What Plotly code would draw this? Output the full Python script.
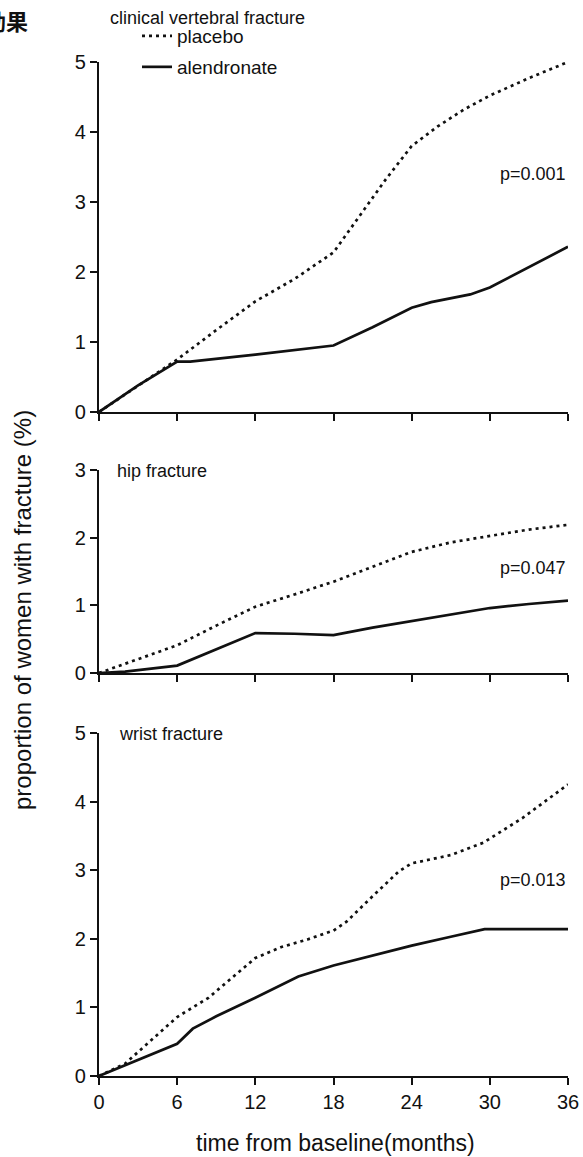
import plotly.graph_objects as go

# ---------------- data ----------------
months_ticks = [0, 6, 12, 18, 24, 30, 36]

clin_placebo_x = [0, 6, 9, 12, 15, 18, 20, 22, 24, 26, 28, 30, 33, 36]
clin_placebo_y = [0, 0.75, 1.17, 1.58, 1.9, 2.28, 2.8, 3.32, 3.8, 4.08, 4.32, 4.52, 4.77, 5.0]
clin_alend_x = [0, 3, 6, 7, 12, 18, 21, 24, 25.5, 28.5, 30, 33, 36]
clin_alend_y = [0, 0.38, 0.72, 0.72, 0.82, 0.95, 1.21, 1.49, 1.57, 1.68, 1.78, 2.07, 2.36]

hip_placebo_x = [0, 3, 6, 9, 12, 15, 18, 21, 24, 27, 30, 33, 36]
hip_placebo_y = [0, 0.2, 0.41, 0.7, 0.98, 1.16, 1.35, 1.57, 1.79, 1.93, 2.03, 2.12, 2.19]
hip_alend_x = [0, 2, 6, 9, 12, 15, 18, 21, 24, 27, 30, 33, 36]
hip_alend_y = [0, 0.02, 0.11, 0.35, 0.59, 0.58, 0.56, 0.67, 0.77, 0.87, 0.96, 1.02, 1.07]

wrist_placebo_x = [0, 2, 4, 6, 8.4, 12, 14, 16, 18, 19, 21, 23, 24, 27, 29.5, 30.5, 32.5, 36]
wrist_placebo_y = [0, 0.18, 0.52, 0.86, 1.14, 1.72, 1.88, 1.99, 2.12, 2.25, 2.62, 2.98, 3.1, 3.22, 3.4, 3.52, 3.76, 4.25]
wrist_alend_x = [0, 3, 6, 7.2, 9, 12, 14, 15.3, 18, 22, 24, 27, 29.6, 33, 36]
wrist_alend_y = [0, 0.24, 0.47, 0.69, 0.87, 1.14, 1.33, 1.45, 1.61, 1.8, 1.9, 2.03, 2.14, 2.14, 2.14]

panel_titles = ["clinical vertebral fracture", "hip fracture", "wrist fracture"]
p_values = ["p=0.001", "p=0.047", "p=0.013"]
p_value_y = [3.4, 1.55, 2.86]
y_ranges = [[0, 5], [0, 3], [0, 5]]
series_names = ["placebo", "alendronate"]

# ---------------- layout geometry ----------------
W, H = 583, 1157
x_left_px, x_right_px = 99, 568
panels_px = [(62, 412), (470, 673), (733, 1076)]  # (top, bottom) pixel rows

FONT = "Liberation Sans, Arial, Helvetica, sans-serif"
BLACK = "#111111"


def fy(px):
    return 1 - px / H


fig = go.Figure()

data = [
    (clin_placebo_x, clin_placebo_y, clin_alend_x, clin_alend_y),
    (hip_placebo_x, hip_placebo_y, hip_alend_x, hip_alend_y),
    (wrist_placebo_x, wrist_placebo_y, wrist_alend_x, wrist_alend_y),
]

for i, (px_, py_, ax_, ay_) in enumerate(data):
    suffix = "" if i == 0 else str(i + 1)
    fig.add_trace(go.Scatter(
        x=px_, y=py_, mode="lines", name=series_names[0],
        line=dict(color=BLACK, width=2.7, dash="3px,4px"),
        xaxis="x" + suffix, yaxis="y" + suffix, showlegend=(i == 0),
        legend="legend", cliponaxis=False, hoverinfo="skip"))
    fig.add_trace(go.Scatter(
        x=ax_, y=ay_, mode="lines", name=series_names[1],
        line=dict(color=BLACK, width=2.7),
        xaxis="x" + suffix, yaxis="y" + suffix, showlegend=(i == 0),
        legend="legend2", cliponaxis=False, hoverinfo="skip"))

legend_common = dict(xanchor="left", yanchor="middle", bgcolor="rgba(0,0,0,0)",
                     font=dict(size=19, family=FONT), itemwidth=30)

layout = dict(
    width=W, height=H,
    margin=dict(l=0, r=0, t=0, b=0),
    paper_bgcolor="white", plot_bgcolor="white",
    font=dict(family=FONT, color=BLACK, size=18),
    showlegend=True,
    legend=dict(x=137 / W, y=fy(36), **legend_common),
    legend2=dict(x=137 / W, y=fy(67), **legend_common),
)

annotations = []
for i in range(3):
    suffix = "" if i == 0 else str(i + 1)
    top, bot = panels_px[i]
    xa = dict(
        domain=[x_left_px / W, x_right_px / W], range=[0, 36],
        tickvals=months_ticks, showticklabels=(i == 2),
        showline=True, linecolor=BLACK, linewidth=2.3,
        ticks="outside", ticklen=7, tickwidth=2, tickcolor=BLACK,
        showgrid=False, zeroline=False, fixedrange=True,
        anchor="y" + suffix, tickfont=dict(size=20),
        automargin=False,
    )
    ya = dict(
        domain=[fy(bot), fy(top)], range=y_ranges[i],
        dtick=1, showline=True, linecolor=BLACK, linewidth=2.3,
        ticks="outside", ticklen=7, tickwidth=2, tickcolor=BLACK,
        showgrid=False, zeroline=False, fixedrange=True,
        anchor="x" + suffix, tickfont=dict(size=20), automargin=False,
    )
    layout["xaxis" + suffix] = xa
    layout["yaxis" + suffix] = ya

    annotations.append(dict(
        text=p_values[i], x=36.0, y=p_value_y[i], xref="x" + suffix, yref="y" + suffix,
        xanchor="right", yanchor="middle", showarrow=False, font=dict(size=18)))

# panel titles
annotations.append(dict(text=panel_titles[0], x=0.7, y=fy(18), xref="x", yref="paper",
                        xanchor="left", yanchor="middle", showarrow=False, font=dict(size=18)))
annotations.append(dict(text=panel_titles[1], x=1.2, y=2.98, xref="x2", yref="y2",
                        xanchor="left", yanchor="middle", showarrow=False, font=dict(size=18)))
annotations.append(dict(text=panel_titles[2], x=1.4, y=4.98, xref="x3", yref="y3",
                        xanchor="left", yanchor="middle", showarrow=False, font=dict(size=18)))

# x-axis title (bottom panel)
annotations.append(dict(text="time from baseline(months)", x=335 / W, y=fy(1143),
                        xref="paper", yref="paper", showarrow=False,
                        xanchor="center", yanchor="middle", font=dict(size=23)))

# shared y-axis title
annotations.append(dict(text="proportion of women with fracture (%)", x=23 / W, y=fy(610),
                        xref="paper", yref="paper", textangle=-90, showarrow=False,
                        xanchor="center", yanchor="middle", font=dict(size=24)))

# partial heading at top-left
annotations.append(dict(text="<b>効果</b>", x=30 / W, y=fy(20), xref="paper", yref="paper",
                        xanchor="right", yanchor="middle", showarrow=False,
                        font=dict(size=22, family="Noto Sans CJK JP")))

layout["annotations"] = annotations
fig.update_layout(**layout)

fig.write_html("out.html", config={"displayModeBar": False},
               post_script="document.body.style.margin='0';document.body.style.overflow='hidden';")
